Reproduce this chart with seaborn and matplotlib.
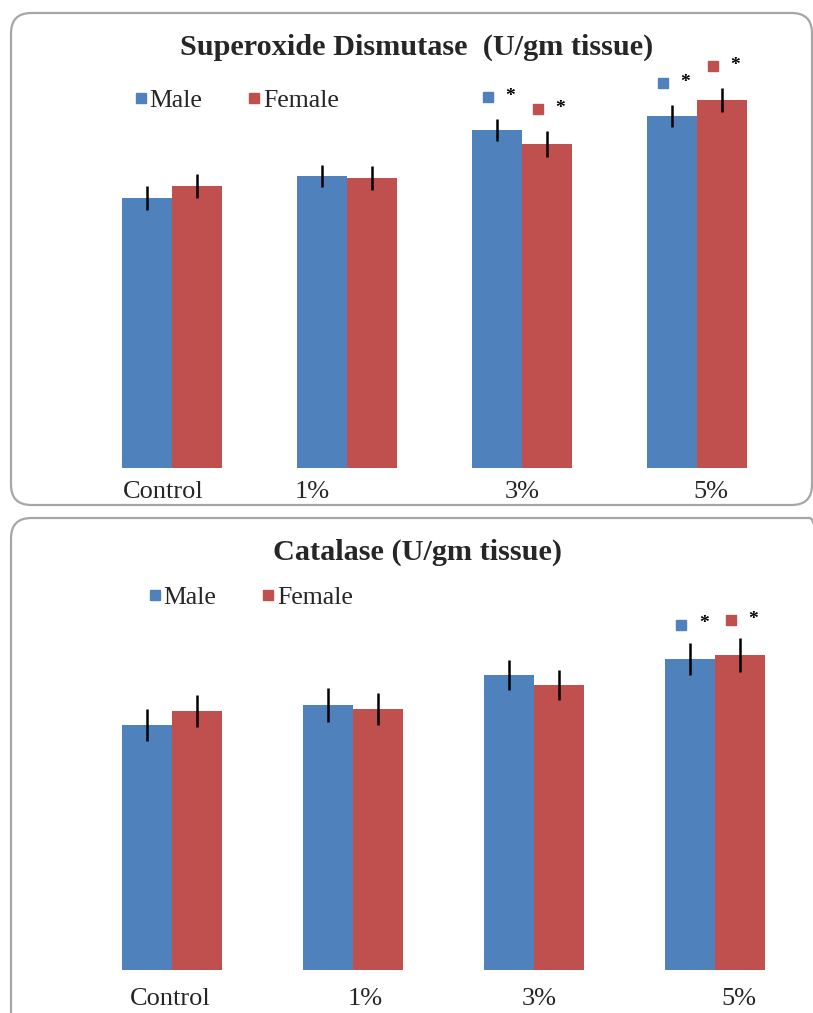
import numpy as np
import pandas as pd
import matplotlib
matplotlib.use("Agg")
import matplotlib.pyplot as plt
from matplotlib.patches import FancyBboxPatch
from matplotlib.lines import Line2D
import seaborn as sns

# ---- data ----
groups = ["Control", "1%", "3%", "5%"]
sexes = ["Male", "Female"]

sod_male = [270, 292, 338, 352]
sod_female = [282, 290, 324, 368]
sod_male_err = [12, 11, 11, 11]
sod_female_err = [12, 12, 13, 12]
sod_male_sig = [False, False, True, True]
sod_female_sig = [False, False, True, True]

cat_male = [245, 265, 295, 311]
cat_female = [259, 261, 285, 315]
cat_male_err = [16, 17, 15, 16]
cat_female_err = [16, 16, 15, 17]
cat_male_sig = [False, False, False, True]
cat_female_sig = [False, False, False, True]

titles = ["Superoxide Dismutase  (U/gm tissue)", "Catalase (U/gm tissue)"]

# ---- style ----
sns.set_theme(style="white")
plt.rcParams["font.family"] = ["Liberation Serif", "DejaVu Serif"]
BLUE = "#4F81BD"
RED = "#C0504D"
palette = {"Male": BLUE, "Female": RED}

W, H = 813, 1013
fig = plt.figure(figsize=(W / 100, H / 100), dpi=100)


def px_box(x0, y0, x1, y1):
    """Convert pixel box (top-left origin) to figure rect."""
    return [x0 / W, 1 - y1 / H, (x1 - x0) / W, (y1 - y0) / H]


# rounded frames around each chart
for (x0, y0, x1, y1) in [(11, 13, 812, 505), (11, 518, 830, 1040)]:
    frame = FancyBboxPatch((x0 / W, 1 - y1 / H), (x1 - x0) / W, (y1 - y0) / H,
                           boxstyle="round,pad=0,rounding_size=0.025",
                           transform=fig.transFigure, facecolor="none",
                           edgecolor="#a6a6a6", linewidth=1.6, clip_on=False,
                           mutation_aspect=W / H)
    fig.patches.append(frame)

panels = [
    dict(male=sod_male, female=sod_female, merr=sod_male_err, ferr=sod_female_err,
         msig=sod_male_sig, fsig=sod_female_sig, title=titles[0],
         rect=px_box(84.5, 68, 784.5, 468), width=0.571,
         tick_shift=[-0.05, -0.20, 0.0, 0.08], tick_pad=9,
         title_y=47, legend_xy=(133, 101), mark_gap=22),
    dict(male=cat_male, female=cat_female, merr=cat_male_err, ferr=cat_female_err,
         msig=cat_male_sig, fsig=cat_female_sig, title=titles[1],
         rect=px_box(81.5, 570, 805.5, 970), width=0.552,
         tick_shift=[-0.01, 0.07, 0.03, 0.13], tick_pad=13,
         title_y=552, legend_xy=(147, 598), mark_gap=18),
]

for p in panels:
    ax = fig.add_axes(p["rect"])
    df = pd.DataFrame({
        "group": groups * 2,
        "sex": ["Male"] * 4 + ["Female"] * 4,
        "value": list(p["male"]) + list(p["female"]),
    })
    sns.barplot(data=df, x="group", y="value", hue="sex", hue_order=sexes,
                order=groups, palette=palette, width=p["width"], errorbar=None,
                saturation=1, linewidth=0, ax=ax, legend=False)

    errs = {"Male": p["merr"], "Female": p["ferr"]}
    sigs = {"Male": p["msig"], "Female": p["fsig"]}
    vals = {"Male": p["male"], "Female": p["female"]}
    for container, sex in zip(ax.containers, sexes):
        xs = [bar.get_x() + bar.get_width() / 2 for bar in container]
        ax.errorbar(xs, vals[sex], yerr=errs[sex], fmt="none", ecolor="black",
                    elinewidth=1.8, capsize=0, zorder=3)
        for x, v, e, s in zip(xs, vals[sex], errs[sex], sigs[sex]):
            if s:
                y = v + e + p["mark_gap"]
                ax.plot([x - 0.05], [y], marker="s", ms=6.5, color=palette[sex],
                        ls="", clip_on=False)
                ax.text(x + 0.075, y + 1, "*", ha="center", va="center",
                        fontsize=14, fontweight="bold", color="black",
                        clip_on=False)

    ax.set_xlim(-0.5, 3.5)
    ax.set_ylim(0, 400)
    ticks = np.arange(len(groups)) + np.array(p["tick_shift"])
    ax.set_xticks(ticks)
    ax.set_xticklabels(groups, fontsize=19)
    ax.tick_params(axis="x", length=0, pad=p["tick_pad"])
    ax.set_xlabel("")
    ax.set_ylabel("")
    ax.set_yticks([])
    for sp in ax.spines.values():
        sp.set_visible(False)

    fig.text(417 / W, 1 - p["title_y"] / H, p["title"], ha="center", va="center",
             fontsize=21.8, fontweight="bold")

    handles = [Line2D([], [], marker="s", ls="", color=palette[s], ms=7) for s in sexes]
    lx, ly = p["legend_xy"]
    fig.legend(handles, sexes, loc="center left",
               bbox_to_anchor=(lx / W, 1 - ly / H), ncol=2, frameon=False,
               fontsize=18.5, handlelength=0.6, handletextpad=0.05,
               columnspacing=1.7, borderpad=0, borderaxespad=0)

fig.savefig("out.png", dpi=100)
